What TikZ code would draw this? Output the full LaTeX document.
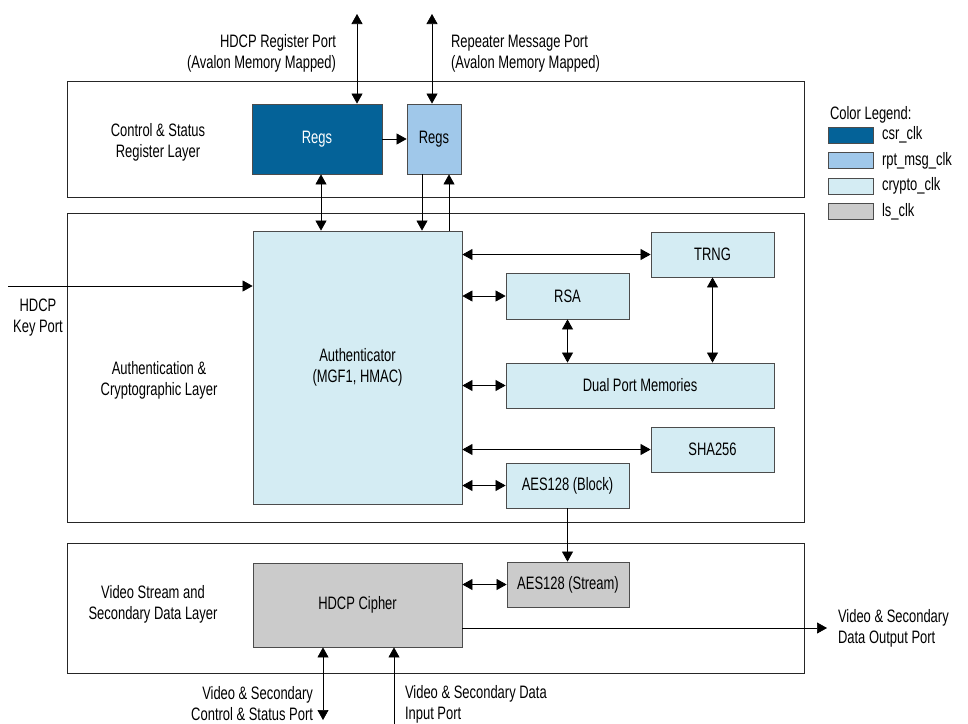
\documentclass[tikz,border=0pt]{standalone}
\usepackage{fontspec}
\setmainfont[FakeStretch=0.72]{Liberation Sans}
\usetikzlibrary{arrows.meta}
\definecolor{csrblue}{RGB}{4,98,152}
\definecolor{rptblue}{RGB}{160,200,234}
\definecolor{cryptoblue}{RGB}{212,236,243}
\definecolor{lsgray}{RGB}{203,203,203}

\begin{document}
\begin{tikzpicture}[x=1pt, y=-1pt, font=\fontsize{18}{21}\selectfont]
    \tikzstyle{layer}=[draw=black!85, line width=0.8pt, minimum width=737pt, inner sep=0pt]
    \tikzstyle{block}=[draw=black!70, line width=0.8pt, fill=cryptoblue, inner sep=0pt, align=center]
    \tikzstyle{arr}=[line width=0.7pt, -{Triangle[length=10pt,width=11pt]}]
    \tikzstyle{dbl}=[line width=0.7pt, {Triangle[length=10pt,width=11pt]}-{Triangle[length=10pt,width=11pt]}]
    \tikzstyle{key}=[draw=black!70, line width=0.8pt, minimum width=45pt, minimum height=16pt, inner sep=0pt]

    \useasboundingbox (0,0) rectangle (968,723);

    % layers
    \node[layer, minimum height=116pt] (csrlay) at (435.5,139) {};
    \node[layer, minimum height=309pt] (authlay) at (435.5,367.5) {};
    \node[layer, minimum height=130pt] (vidlay) at (435.5,608) {};

    \node[align=center] (csrtxt) at (158,142) {Control \& Status\\Register Layer};
    \node[align=center] (authtxt) at (159,380) {Authentication \&\\Cryptographic Layer};
    \node[align=center] (vidtxt) at (153,604) {Video Stream and\\Secondary Data Layer};

    % blocks
    \node[block, fill=csrblue, text=white, minimum width=130pt, minimum height=70pt] (regA) at (317,139) {Regs};
    \node[block, fill=rptblue, minimum width=54pt, minimum height=70pt] (regB) at (434,139) {Regs};
    \node[block, minimum width=209pt, minimum height=273pt] (auth) at (357.5,367.5) {Authenticator\\(MGF1, HMAC)};
    \node[block, minimum width=123pt, minimum height=45pt] (trng) at (712.5,254.5) {TRNG};
    \node[block, minimum width=123pt, minimum height=46pt] (rsa) at (567.5,296) {RSA};
    \node[block, minimum width=268pt, minimum height=45pt] (dpm) at (640,385.5) {Dual Port Memories};
    \node[block, minimum width=123pt, minimum height=45pt] (sha) at (712.5,449.5) {SHA256};
    \node[block, minimum width=123pt, minimum height=45pt] (aesb) at (567.5,485.5) {AES128 (Block)};
    \node[block, fill=lsgray, minimum width=209pt, minimum height=84pt] (cipher) at (357.5,605) {HDCP Cipher};
    \node[block, fill=lsgray, minimum width=122pt, minimum height=45pt] (aess) at (568,584.5) {AES128 (Stream)};

    % ports
    \coordinate (regport) at (357,14);
    \coordinate (rptport) at (432,14);
    \coordinate (keyport) at (8,286);
    \coordinate (ctlport) at (323,720);
    \coordinate (inport) at (394,726);
    \coordinate (outport) at (827,628);

    \draw[dbl] (regport) -- (regport |- regA.north);
    \draw[dbl] (rptport) -- (rptport |- regB.north);
    \draw[arr] (regA.east) -- (regB.west);
    \draw[dbl] ([xshift=4pt]regA.south) -- ([xshift=4pt]regA.south |- auth.north);
    \draw[arr] ([xshift=-12pt]regB.south) -- ([xshift=-12pt]regB.south |- auth.north);
    \draw[arr] ([xshift=15pt]regB.south |- auth.north) -- ([xshift=15pt]regB.south);
    \draw[arr] (keyport) -- (keyport -| auth.west);
    \draw[dbl] (auth.east |- trng.west) -- (trng.west);
    \draw[dbl] (auth.east |- rsa.west) -- (rsa.west);
    \draw[dbl] (auth.east |- dpm.west) -- (dpm.west);
    \draw[dbl] (auth.east |- sha.west) -- (sha.west);
    \draw[dbl] (auth.east |- aesb.west) -- (aesb.west);
    \draw[dbl] (rsa.south) -- (rsa.south |- dpm.north);
    \draw[dbl] (trng.south) -- (trng.south |- dpm.north);
    \draw[arr] (aesb.south) -- (aesb.south |- aess.north);
    \draw[dbl] (cipher.east |- aess.west) -- (aess.west);
    \draw[arr] (cipher.east |- outport) -- (outport);
    \draw[dbl] (ctlport |- cipher.south) -- (ctlport);
    \draw[arr] (inport) -- (inport |- cipher.south);

    % port labels
    \node[anchor=east, align=right] (regtxt) at (339.5,53.5) {HDCP Register Port\\(Avalon Memory Mapped)};
    \node[anchor=west, align=left] (rpttxt) at (447.5,53.5) {Repeater Message Port\\(Avalon Memory Mapped)};
    \node[align=center] (keytxt) at (38,318) {HDCP\\Key Port};
    \node[anchor=east, align=right] (ctltxt) at (316.5,704) {Video \& Secondary\\Control \& Status Port};
    \node[anchor=west, align=left] (intxt) at (401.5,704) {Video \& Secondary Data\\Input Port};
    \node[anchor=west, align=left] (outtxt) at (834.5,628) {Video \& Secondary\\Data Output Port};

    % legend
    \node[anchor=west] (legtxt) at (826.5,115) {Color Legend:};
    \node[key, fill=csrblue] (k1) at (850.5,135) {};
    \node[key, fill=rptblue] (k2) at (850.5,160.5) {};
    \node[key, fill=cryptoblue] (k3) at (850.5,186) {};
    \node[key, fill=lsgray] (k4) at (850.5,211.5) {};
    \node[anchor=west] (k1txt) at (878.5,135) {csr\_clk};
    \node[anchor=west] (k2txt) at (878.5,160.5) {rpt\_msg\_clk};
    \node[anchor=west] (k3txt) at (878.5,186) {crypto\_clk};
    \node[anchor=west] (k4txt) at (878.5,211.5) {ls\_clk};
\end{tikzpicture}
\end{document}
